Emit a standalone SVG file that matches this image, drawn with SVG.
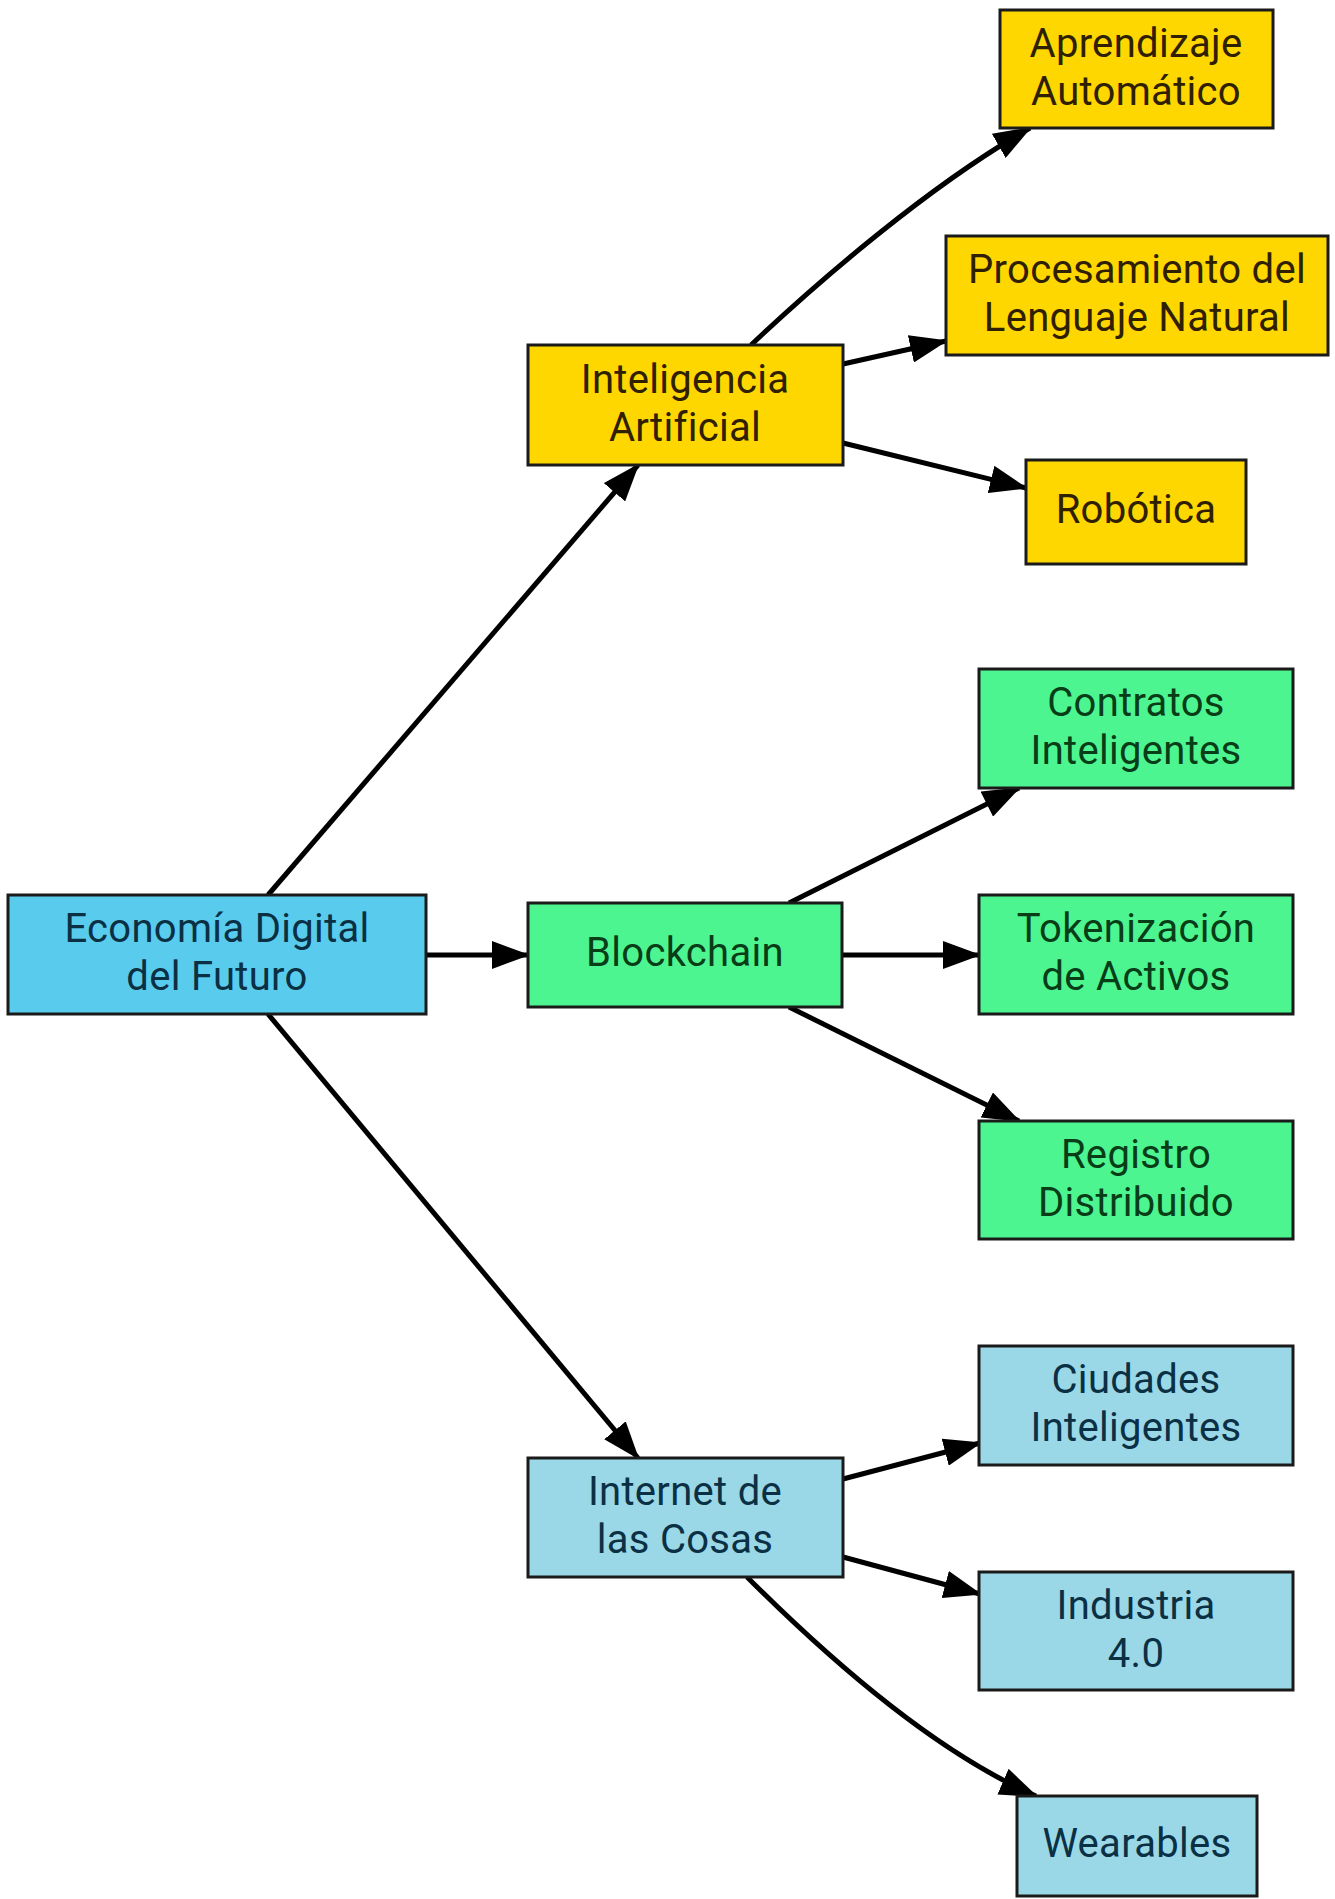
<svg xmlns="http://www.w3.org/2000/svg" width="1335" height="1899" viewBox="0 0 1335 1899">
<style>
  .box { stroke: #1a1a1a; stroke-width: 3; }
  .t { font-family: Roboto, "Liberation Sans", sans-serif; font-size: 40px; text-anchor: middle; letter-spacing: 0.3px; }
  .ai rect { fill: #FFD700; }
  .ai text { fill: #2E2000; }
  .bc rect { fill: #4DF590; }
  .bc text { fill: #083D17; }
  .root rect { fill: #59CCEE; }
  .root text { fill: #0B3044; }
  .iot rect { fill: #9AD8E8; }
  .iot text { fill: #0B3044; }
  .edge { fill: none; stroke: #000; stroke-width: 5; marker-end: url(#arr); }
</style>
<defs>
  <marker id="arr" markerUnits="userSpaceOnUse" markerWidth="38" markerHeight="28" refX="36" refY="14" orient="auto">
    <path d="M0,0 L38,14 L0,28 z" fill="#000"/>
  </marker>
</defs>
<rect width="1335" height="1899" fill="#fff"/>
<g id="connectors">
  <path class="edge" d="M268,895 L638,465"/>
  <path class="edge" d="M426,955 L528,955"/>
  <path class="edge" d="M268,1014 L638,1458"/>
  <path class="edge" d="M751,345 C820,280 930,185 1030,128"/>
  <path class="edge" d="M843,364 L946,341"/>
  <path class="edge" d="M843,443 L1026,488"/>
  <path class="edge" d="M789,903 L1019,788"/>
  <path class="edge" d="M842,955 L979,955"/>
  <path class="edge" d="M789,1007 L1019,1121"/>
  <path class="edge" d="M843,1479 L980,1443"/>
  <path class="edge" d="M843,1557 L980,1594"/>
  <path class="edge" d="M747,1577 C820,1650 930,1750 1036,1796"/>
</g>
<g id="root" class="root">
  <rect class="box" x="8" y="895" width="418" height="119"/>
  <text class="t" x="217" y="942">Economía Digital</text>
  <text class="t" x="217" y="990">del Futuro</text>
</g>
<g id="ia" class="ai">
  <rect class="box" x="528" y="345" width="315" height="120"/>
  <text class="t" x="685" y="393">Inteligencia</text>
  <text class="t" x="685" y="441">Artificial</text>
</g>
<g id="blockchain" class="bc">
  <rect class="box" x="528" y="903" width="314" height="104"/>
  <text class="t" x="685" y="966">Blockchain</text>
</g>
<g id="iot" class="iot">
  <rect class="box" x="528" y="1458" width="315" height="119"/>
  <text class="t" x="685" y="1505">Internet de</text>
  <text class="t" x="685" y="1553">las Cosas</text>
</g>
<g id="aprendizaje" class="ai">
  <rect class="box" x="1000" y="10" width="273" height="118"/>
  <text class="t" x="1136" y="57">Aprendizaje</text>
  <text class="t" x="1136" y="105">Automático</text>
</g>
<g id="pln" class="ai">
  <rect class="box" x="946" y="236" width="382" height="119"/>
  <text class="t" x="1137" y="283">Procesamiento del</text>
  <text class="t" x="1137" y="331">Lenguaje Natural</text>
</g>
<g id="robotica" class="ai">
  <rect class="box" x="1026" y="460" width="220" height="104"/>
  <text class="t" x="1136" y="523">Robótica</text>
</g>
<g id="contratos" class="bc">
  <rect class="box" x="979" y="669" width="314" height="119"/>
  <text class="t" x="1136" y="716">Contratos</text>
  <text class="t" x="1136" y="764">Inteligentes</text>
</g>
<g id="tokenizacion" class="bc">
  <rect class="box" x="979" y="895" width="314" height="119"/>
  <text class="t" x="1136" y="942">Tokenización</text>
  <text class="t" x="1136" y="990">de Activos</text>
</g>
<g id="registro" class="bc">
  <rect class="box" x="979" y="1121" width="314" height="118"/>
  <text class="t" x="1136" y="1168">Registro</text>
  <text class="t" x="1136" y="1216">Distribuido</text>
</g>
<g id="ciudades" class="iot">
  <rect class="box" x="979" y="1346" width="314" height="119"/>
  <text class="t" x="1136" y="1393">Ciudades</text>
  <text class="t" x="1136" y="1441">Inteligentes</text>
</g>
<g id="industria" class="iot">
  <rect class="box" x="979" y="1572" width="314" height="118"/>
  <text class="t" x="1136" y="1619">Industria</text>
  <text class="t" x="1136" y="1667">4.0</text>
</g>
<g id="wearables" class="iot">
  <rect class="box" x="1017" y="1796" width="240" height="100"/>
  <text class="t" x="1137" y="1857">Wearables</text>
</g>
</svg>
